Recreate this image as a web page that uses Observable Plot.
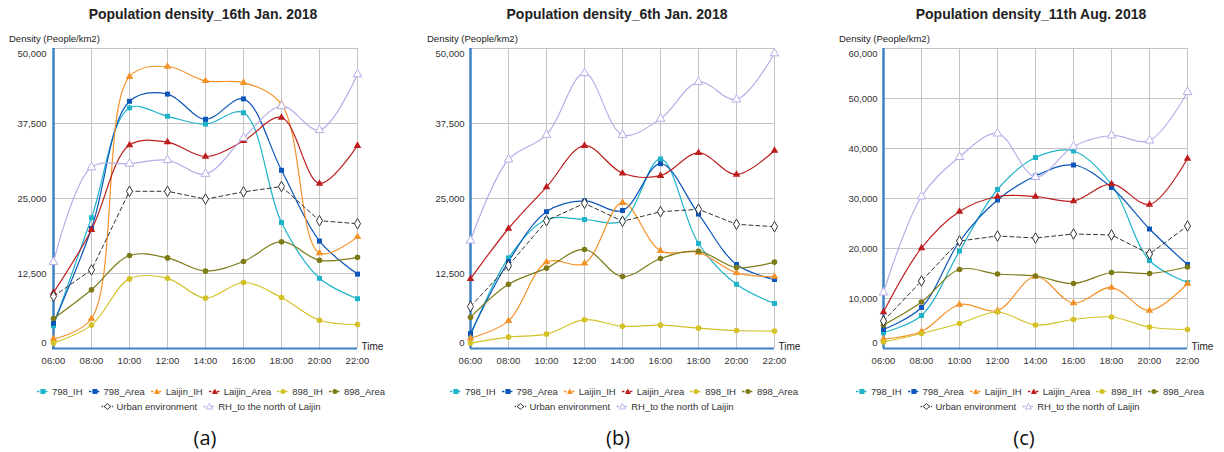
<!DOCTYPE html>
<html><head><meta charset="utf-8">
<script src="https://cdn.jsdelivr.net/npm/d3@7"></script>
<script src="https://cdn.jsdelivr.net/npm/@observablehq/plot@0.6"></script>
<style>
body{margin:0;background:#fff;font-family:"Liberation Sans",Arial,sans-serif;}
#root{position:relative;width:1224px;height:452px;overflow:hidden;background:#fff}
.abs{position:absolute;white-space:nowrap}
.title{font-weight:bold;font-size:14px;color:#222;transform:translate(-50%,-50%)}
.ylab{font-size:9.5px;color:#222;transform:translateY(-50%)}
.leg{font-size:9.5px;color:#333;transform:translate(-50%,-50%);display:flex;align-items:center}
.leg .it{display:flex;align-items:center;margin:0 3px}
.leg svg{margin-right:3px}
.plab{font-family:"Open Sans",sans-serif;font-size:20px;color:#111;transform:translate(-50%,-50%)}
.plot{position:absolute;top:30px}
</style>
</head><body><div id="root"></div>
<script>
const times = ["06:00","08:00","10:00","12:00","14:00","16:00","18:00","20:00","22:00"];
const seriesNames = ["798_IH","798_Area","Laijin_IH","Laijin_Area","898_IH","898_Area","Urban environment","RH_to the north of Laijin"];
const seriesColors = ["#1db3c9","#0b56b8","#f4922a","#bd1d1d","#d4c126","#7d7a17","#333333","#b6aee6"];
const panelTitles = ["Population density_16th Jan. 2018","Population density_6th Jan. 2018","Population density_11th Aug. 2018"];
const panelLetters = ["(a)","(b)","(c)"];
const yTicksAB = [0,12500,25000,37500,50000];
const yTicksC = [0,10000,20000,30000,40000,50000,60000];

// Panel (a) 16th Jan. 2018
const a_798_IH      = [3800, 21800, 40100, 38700, 37400, 39300, 21000, 11700, 8300];
const a_798_Area    = [4200, 20000, 41200, 42400, 38200, 41600, 29700, 17900, 12400];
const a_Laijin_IH   = [1600, 5000, 45300, 47000, 44600, 44300, 40700, 15900, 18600];
const a_Laijin_Area = [9300, 19800, 33900, 34400, 32000, 34600, 38500, 27500, 33800];
const a_898_IH      = [900, 3900, 11600, 11700, 8400, 11000, 8500, 4700, 4000];
const a_898_Area    = [5000, 9800, 15500, 15100, 12900, 14500, 17800, 14700, 15200];
const a_Urban       = [8700, 13100, 26200, 26200, 24900, 26100, 27000, 21300, 20800];
const a_RH          = [14400, 30200, 30800, 31400, 29100, 35100, 40400, 36400, 45700];

// Panel (b) 6th Jan. 2018
const b_798_IH      = [2200, 15100, 21500, 21500, 21300, 31600, 17500, 10700, 7500];
const b_798_Area    = [2500, 14500, 22800, 24600, 23000, 30800, 22400, 14000, 11500];
const b_Laijin_IH   = [1700, 4600, 14400, 14200, 24300, 16300, 16000, 12600, 12000];
const b_Laijin_Area = [11600, 20000, 26900, 33800, 29200, 28800, 32600, 29000, 33000];
const b_898_IH      = [900, 1900, 2400, 4800, 3700, 3900, 3400, 3000, 2900];
const b_898_Area    = [5200, 10700, 13400, 16500, 12000, 15000, 16200, 13500, 14400];
const b_Urban       = [7000, 13800, 21300, 24200, 21200, 22800, 23200, 20700, 20300];
const b_RH          = [18000, 31500, 35600, 45900, 35600, 38300, 44400, 41500, 49200];

// Panel (c) 11th Aug. 2018
const c_798_IH      = [3200, 6600, 19500, 31800, 38200, 39500, 32800, 17600, 13200];
const c_798_Area    = [3800, 8200, 21400, 29700, 34500, 36700, 32200, 23900, 16800];
const c_Laijin_IH   = [1900, 3400, 8800, 7600, 14400, 9100, 12200, 7600, 13000];
const c_Laijin_Area = [7300, 20100, 27400, 30400, 30400, 29500, 32900, 28800, 38000];
const c_898_IH      = [1300, 3000, 5000, 7300, 4700, 5800, 6300, 4300, 3800];
const c_898_Area    = [4700, 9300, 15800, 14900, 14500, 13000, 15200, 15000, 16300];
const c_Urban       = [5500, 13500, 21500, 22500, 22100, 22900, 22700, 18900, 24500];
const c_RH          = [11200, 30400, 38300, 43000, 34300, 40400, 42600, 41600, 51300];

const panelSeries = [
  [a_798_IH,a_798_Area,a_Laijin_IH,a_Laijin_Area,a_898_IH,a_898_Area,a_Urban,a_RH],
  [b_798_IH,b_798_Area,b_Laijin_IH,b_Laijin_Area,b_898_IH,b_898_Area,b_Urban,b_RH],
  [c_798_IH,c_798_Area,c_Laijin_IH,c_Laijin_Area,c_898_IH,c_898_Area,c_Urban,c_RH]
];

const symbols = ["square","square","triangle","triangle","circle","circle","diamond","triangle"];
const hollow = [false,false,false,false,false,false,true,true];
const AXIS = "#3d82c4", GRID = "#c4c4c4";

const layout = [
  {left:0, width:408, ml:52, mr:51, yTicks:yTicksAB, cx:211, tcx:203, dx:9},
  {left:410, width:408, ml:60, mr:44, yTicks:yTicksAB, cx:624, tcx:617, dx:427},
  {left:818, width:406, ml:65, mr:37, yTicks:yTicksC, cx:1030, tcx:1031, dx:839}
];

const root = document.getElementById("root");
function addDiv(cls, x, y, html){
  const d = document.createElement("div");
  d.className = "abs " + cls; d.style.left = x+"px"; d.style.top = y+"px";
  d.innerHTML = html; root.appendChild(d); return d;
}
const fmt = d3.format(",");

panelSeries.forEach((arrs, p) => {
  const L = layout[p];
  const rows = [];
  arrs.forEach((vals, s) => vals.forEach((v, i) => rows.push({time: times[i], value: v, series: seriesNames[s], si: s})));
  const yMax = L.yTicks[L.yTicks.length-1];
  const marks = [
    Plot.gridX(times, {stroke: GRID, strokeOpacity: 1, strokeWidth: 1}),
    Plot.gridY(L.yTicks, {stroke: GRID, strokeOpacity: 1, strokeWidth: 1}),
    Plot.ruleY([0], {stroke: AXIS, strokeWidth: 2}),
    Plot.ruleX([times[0]], {stroke: AXIS, strokeWidth: 2.5}),
    Plot.axisX({tickSize: 0, tickPadding: 9, label: null, fontSize: 9.5}),
    Plot.axisY(L.yTicks.slice(1, -1), {tickSize: 0, tickPadding: 6, tickFormat: fmt, label: null, fontSize: 9.5}),
    Plot.axisY([yMax], {tickSize: 0, tickPadding: 6, tickFormat: fmt, label: null, dy: 5, fontSize: 9.5}),
    Plot.axisY([0], {tickSize: 0, tickPadding: 6, tickFormat: fmt, label: null, dy: -6, fontSize: 9.5}),
  ];
  seriesNames.forEach((name, s) => {
    const data = rows.filter(r => r.si === s);
    marks.push(Plot.line(data, {x: "time", y: "value", stroke: seriesColors[s], strokeWidth: s === 6 ? 1 : 1.2,
      curve: s === 6 ? "linear" : "catmull-rom", strokeDasharray: s === 6 ? "4,3" : null}));
  });
  seriesNames.forEach((name, s) => {
    const data = rows.filter(r => r.si === s);
    marks.push(Plot.dot(data, {x: "time", y: "value", symbol: () => symbols[s],
      r: hollow[s] ? 3.2 : 2.8, fill: hollow[s] ? "#fff" : seriesColors[s],
      stroke: hollow[s] ? seriesColors[s] : "none", strokeWidth: 1}));
  });
  marks.push(Plot.text(["Time"], {text: d => d, frameAnchor: "bottom-right", dx: 4, dy: 1, textAnchor: "start", fontSize: 10, fill: "#222"}));

  const chart = Plot.plot({
    width: L.width, height: 340,
    marginLeft: L.ml, marginRight: L.mr, marginTop: 18, marginBottom: 22,
    x: {type: "point", domain: times, padding: 0, label: null, axis: null},
    y: {domain: [0, yMax], label: null, axis: null},
    symbol: {type: "identity"},
    style: {fontFamily: "Liberation Sans, Arial, sans-serif", fontSize: "9.5px", color: "#333", background: "transparent", overflow: "visible"},
    marks
  });
  chart.classList.add("plot");
  chart.style.left = L.left + "px";
  root.appendChild(chart);

  addDiv("title", L.tcx, 14, panelTitles[p]);
  addDiv("ylab", L.dx, 38, "Density (People/km2)");

  const icon = s => {
    const c = seriesColors[s];
    let m;
    if (symbols[s] === "square") m = `<rect x="3.5" y="1.5" width="5" height="5" fill="${c}"/>`;
    else if (symbols[s] === "circle") m = `<circle cx="6" cy="4" r="2.5" fill="${c}"/>`;
    else if (symbols[s] === "diamond") m = `<path d="M6 1 L9 4 L6 7 L3 4Z" fill="#fff" stroke="${c}" stroke-width="1"/>`;
    else m = `<path d="M6 1 L9 6.5 L3 6.5Z" fill="${hollow[s] ? "#fff" : c}" stroke="${hollow[s] ? c : "none"}" stroke-width="0.9"/>`;
    return `<svg width="12" height="8"><line x1="0" y1="4" x2="12" y2="4" stroke="${c}" stroke-width="1.5" stroke-dasharray="${s===6?"1.5,1.2":"2.5,1.5"}"/>${m}</svg>`;
  };
  const item = s => `<span class="it">${icon(s)}${seriesNames[s]}</span>`;
  addDiv("leg", L.cx, 391, [0,1,2,3,4,5].map(item).join(""));
  addDiv("leg", L.cx, 406, [6,7].map(item).join(""));
  addDiv("plab", L.cx - 6, 437, panelLetters[p]);
});
</script></body></html>
